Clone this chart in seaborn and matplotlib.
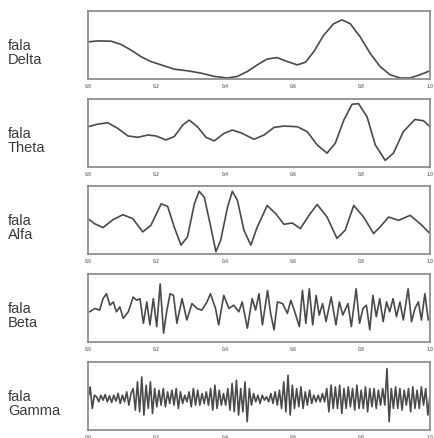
import numpy as np
import pandas as pd
import matplotlib
matplotlib.use("Agg")
import matplotlib.pyplot as plt
import seaborn as sns

# ~~~~~~~~~~~~~~~~~~~~~~~~~~~~ data ~~~~~~~~~~~~~~~~~~~~~~~~~~~~ #
band_names = ['Delta', 'Theta', 'Alfa', 'Beta', 'Gamma']
tick_values = [0.0, 0.2, 0.4, 0.6, 0.8, 1.0]
tick_labels = ['0.0', '0.2', '0.4', '0.6', '0.8', '1.0']

delta_t = [0, .029, .068, .097, .126, .155, .184, .214, .252, .291, .33, .369, .408, .437,
           .466, .495, .524, .553, .583, .612, .636, .66, .689, .718, .743, .767, .796,
           .825, .854, .883, .913, .942, .971, 1.0]
delta_v = [11.0, 11.3, 11.2, 10.2, 8.5, 6.5, 5.0, 4.0, 2.7, 2.2, 1.5, 0.5, 0.0, 0.5,
           2.0, 4.0, 5.8, 6.2, 5.0, 4.0, 4.8, 8.0, 13.0, 16.5, 17.7, 16.5, 12.5,
           7.5, 3.5, 1.0, 0.0, 0.0, 1.0, 2.2]

theta_t = [0, .029, .058, .087, .117, .146, .175, .199, .228, .252, .277, .296, .32, .345,
           .369, .398, .422, .451, .485, .515, .544, .573, .612, .641, .67, .699, .723,
           .748, .772, .791, .816, .84, .869, .893, .922, .956, .981, 1.0]
theta_v = [12.0, 12.8, 13.2, 11.5, 9.2, 8.8, 9.5, 9.2, 8.0, 9.0, 12.5, 14.0, 12.0, 8.8,
           7.7, 10.0, 11.0, 10.0, 8.2, 9.5, 11.8, 12.2, 12.0, 10.5, 6.5, 4.0, 7.0,
           14.0, 18.8, 19.0, 15.0, 6.5, 1.8, 4.0, 10.5, 14.2, 13.8, 12.0]

alfa_t = [0, .019, .044, .073, .102, .131, .16, .184, .214, .233, .252, .272, .291, .311,
          .325, .34, .359, .374, .388, .408, .422, .437, .456, .476, .495, .524, .549,
          .573, .597, .621, .646, .67, .699, .728, .752, .777, .806, .835, .854, .879,
          .908, .942, .971, 1.0]
alfa_v = [10.5, 9.0, 7.8, 10.2, 11.7, 10.5, 6.5, 8.5, 15.0, 14.2, 8.0, 2.5, 5.0, 15.0,
          18.8, 17.0, 8.0, 0.5, 4.0, 14.0, 18.8, 16.0, 7.0, 2.5, 8.0, 14.5, 12.0,
          8.8, 9.2, 7.5, 11.5, 14.8, 11.0, 4.5, 7.0, 14.5, 11.0, 6.0, 8.0, 11.0,
          10.0, 11.5, 9.0, 6.0]

beta_t = [.005, .02, .034, .044, .054, .064, .074, .083, .093, .103,
          .118, .132, .142, .152, .162, .172, .181, .191, .201, .211,
          .221, .23, .24, .25, .26, .275, .289, .304, .319, .333,
          .348, .358, .373, .382, .397, .412, .426, .441, .451, .466,
          .48, .49, .5, .51, .525, .534, .544, .554, .569, .583,
          .593, .603, .618, .627, .637, .647, .657, .667, .676, .686,
          .696, .711, .725, .735, .745, .76, .77, .784, .794, .804,
          .814, .824, .833, .843, .853, .863, .873, .882, .892, .902,
          .912, .922, .936, .946, .956, .966, .975, .985, .995]
beta_v = [9.0, 10.0, 9.5, 13.0, 14.5, 11.0, 12.0, 9.0, 10.5, 7.0,
          9.0, 13.5, 12.5, 13.0, 5.5, 12.0, 5.0, 13.0, 4.5, 17.5,
          2.5, 9.0, 14.5, 14.0, 5.5, 13.0, 6.5, 11.5, 10.0, 9.5,
          12.0, 14.5, 10.0, 5.0, 14.0, 10.0, 11.0, 9.0, 12.0, 4.0,
          13.0, 9.5, 14.5, 5.0, 15.5, 8.5, 3.5, 12.0, 11.5, 8.5,
          12.5, 9.5, 4.5, 15.5, 5.5, 16.0, 5.0, 14.0, 8.0, 11.5,
          6.0, 13.5, 5.0, 12.0, 8.0, 11.5, 4.5, 16.0, 5.5, 10.0,
          11.0, 3.5, 14.0, 7.5, 13.0, 6.0, 12.0, 9.0, 13.0, 7.5,
          12.0, 6.5, 16.0, 6.0, 10.0, 12.0, 6.5, 14.5, 6.5]

gamma_v = [0, 3.5, -3, 1,
           0.5, -1, 1, -0.5, 1.2, -1, 0.8, -1.2, 1, -0.8, 1.5, -1.5, 1, -1, 2, -2, 1.5,
           3, -3.5, 5, -4, 6.5, -5, 4, -3, 5, -4.5, 3, -2.5,
           2.5, -2, 3, -2.5, 2, -1.5, 2.5, -2, 3, -3, 2, -1.5, 1, -1, 2, -2.5, 3, -2, 2.5,
           -2, 1.5, -1.5, 2,
           -2, 3, -3.5, 4, -3, 2.5, -2, 1.5, -2, 3,
           -3.5, 4.5, -4, 5.5, -5, 3, -4, 5, -7, 3, -2,
           1.5, -1, 1, -1.5, 1, -0.5, 0.5, -1, 1.5, -1.5, 2, -2, 2.5, -3,
           5, -4, 7, -5, 4, -3,
           3, -2.5, 3.5, -3, 2, -2, 2.5, -1.5, 1, -1,
           1, -1, 1.5, -1, 3, -4,
           4, -3, 3.5, -3, 4, -4.5, 3, -3, 3.5, -2.5, 3, -3.5, 4, -3, 2.5, -3, 3.5, -4,
           3, -2.5, 3, -3, 2.5, -2,
           3, -2, 9, -7, 3,
           -3, 3.5, -3, 3, -3.5, 2.5, -2, 3, -4, 3.5, -3, 2.5, -3, 3.5, -2, 3, -5, 1]
gamma_t = np.linspace(0, 1, len(gamma_v))  # evenly sampled record

series = {
    'Delta': (delta_t, delta_v),
    'Theta': (theta_t, theta_v),
    'Alfa': (alfa_t, alfa_v),
    'Beta': (beta_t, beta_v),
    'Gamma': (gamma_t, gamma_v),
}
ylims = {'Delta': (-0.3, 20.4), 'Theta': (-0.2, 20.4), 'Alfa': (-0.2, 20.4),
         'Beta': (-0.2, 20.5), 'Gamma': (-9.5, 11.0)}

# ~~~~~~~~~~~~~~~~~~~~~~~~~~~~~~~~~~~~~~~~ plotting ~~~~~~~~~~~~~~~~~~~~~~~~~~~~~~~~~~~~~~~ #
sns.set_style("white")
plt.rcParams['font.family'] = ['Liberation Sans', 'DejaVu Sans']

fig = plt.figure(figsize=(4.35, 4.39), dpi=100)
panel_tops = [12, 100, 187, 275, 363]   # pixel rows of the panel tops
W, H = 435.0, 439.0

for name, top in zip(band_names, panel_tops):
    ax = fig.add_axes([88 / W, 1 - (top + 68) / H, 342 / W, 68 / H])
    t, v = series[name]
    df = pd.DataFrame({'t': t, 'v': v})
    sns.lineplot(data=df, x='t', y='v', ax=ax, color='#4a4a4a', linewidth=1.2,
                 estimator=None, sort=False)
    ax.set_xlim(0, 1)
    ax.set_ylim(*ylims[name])
    ax.set_xticks(tick_values)
    ax.set_xticklabels(tick_labels, fontsize=3.5, color='#555555', weight='bold')
    ax.tick_params(axis='x', length=1.5, width=0.6, pad=1.5, colors='#777777')
    ax.set_yticks([])
    ax.set_xlabel('')
    ax.set_ylabel('')
    for sp in ax.spines.values():
        sp.set_color('#8f8f8f')
        sp.set_linewidth(1.3)
    # band name on the left
    fig.text(8 / W, 1 - (top + 41) / H, 'fala\n' + name, fontsize=10.5, color='#3a3a3a',
             ha='left', va='center', linespacing=1.0)

plt.savefig('out.png', dpi=100)
